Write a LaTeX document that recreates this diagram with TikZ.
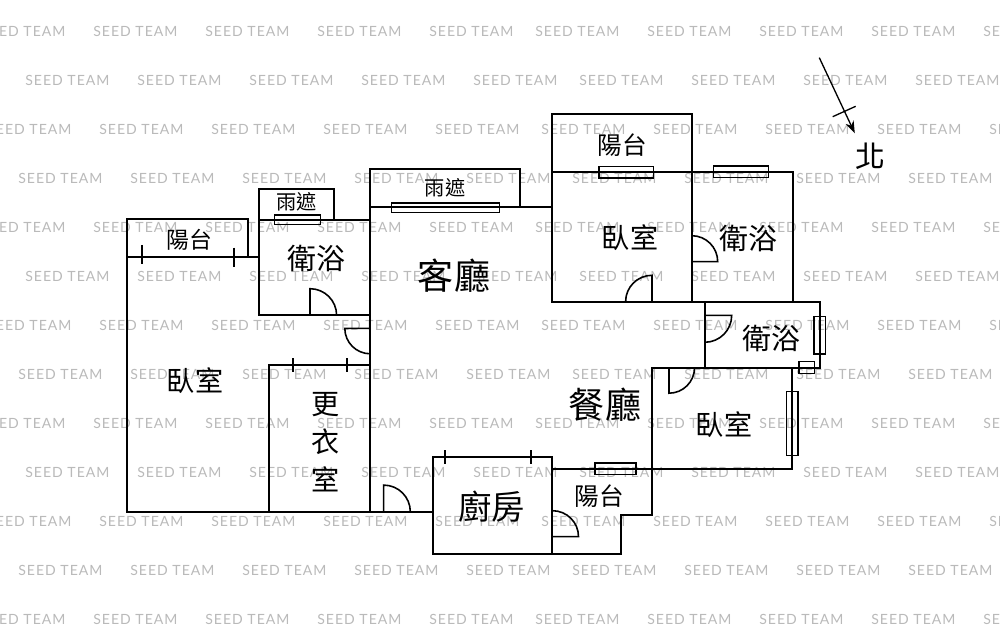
\documentclass[tikz,border=0pt]{standalone}
\usepackage{fontspec}
\usetikzlibrary{arrows.meta}
\setmainfont{Lato}
\newfontfamily\cjkfont{Noto Sans CJK TC}
\newfontfamily\markfont[LetterSpace=7]{Lato}
\tikzset{
  x=0.02cm,y=-0.02cm,
  wall/.style={draw=black,line width=0.95pt},
  windowbox/.style={draw=black,line width=0.9pt},
  doorleaf/.style={draw=black,line width=0.9pt},
  roomlabel/.style={font=\cjkfont,text=black,inner sep=0pt,anchor=center},
  watermark/.style={font=\markfont\fontsize{8}{10}\selectfont,text=black!27,inner sep=0pt,anchor=west},
}
\newcommand{\doorswing}[5]{\draw[doorleaf] (#1,#2) -- ++(#4:#3) arc[start angle=#4,end angle=#5,radius=#3];}
\newcommand{\roomtext}[5]{\node[roomlabel,name=#1] at (#2,#3) {\fontsize{#4}{#4}\selectfont #5};}
\begin{document}
\begin{tikzpicture}
\useasboundingbox (0,0) rectangle (1000,631);
\fill[white] (0,0) rectangle (1000,631);
\begin{scope}
\clip (0,0) rectangle (1000,631);
\foreach \rowy/\basex [count=\r] in {31/93,80/25,129/99,178/18,227/93,276/25,325/99,374/18,423/93,472/25,521/99,570/18,619/93}{
  \foreach \k in {-1,...,8}{
    \pgfmathsetmacro{\px}{\basex+112*\k}
    \pgfmathsetmacro{\qx}{\px>=500 ? \px-6 : \px}
    \node[watermark,name=wm-\r-\k] at (\qx,\rowy) {SEED TEAM};
  }
}
\end{scope}
% walls
\draw[wall] (248,257) -- (248,219) -- (126.7,219) -- (126.7,512) -- (432.7,512);
\draw[wall] (126.7,257) -- (259,257);
\draw[wall] (334,220) -- (334,188.7) -- (259,188.7) -- (259,315.3) -- (370.3,315.3);
\draw[wall] (259,220) -- (370.3,220);
\draw[wall] (520.3,206.7) -- (520.3,169.3) -- (370.3,169.3) -- (370.3,512);
\draw[wall] (370.3,206.7) -- (551.7,206.7);
\draw[wall] (691.7,301.7) -- (691.7,114.3) -- (551.7,114.3) -- (551.7,301.7) -- (820,301.7) -- (820,367.7) -- (651.7,367.7) -- (651.7,515) -- (620.7,515) -- (620.7,554) -- (432.7,554) -- (432.7,456.7) -- (552,456.7) -- (552,554);
\draw[wall] (551.7,172) -- (793,172) -- (793,301.7);
\draw[wall] (704.7,301.7) -- (704.7,367.7);
\draw[wall] (792.3,367.7) -- (792.3,469) -- (552,469);
\draw[wall] (269.3,512) -- (269.3,365) -- (370.3,365);
% ticks
\draw[wall] (142.3,245) -- (142.3,264);
\draw[wall] (234.3,247.7) -- (234.3,266.7);
\draw[wall] (292.7,358.3) -- (292.7,372);
\draw[wall] (347.3,358.3) -- (347.3,372);
\draw[wall] (444.7,450) -- (444.7,464);
\draw[wall] (530.7,450) -- (530.7,464);
% windows
\draw[windowbox] (274.7,215) rectangle (320.3,224.3);
\draw[windowbox] (391.7,203) rectangle (499.3,212.7);
\draw[windowbox] (598.7,166.7) rectangle (653.3,178);
\draw[windowbox] (713.3,166) rectangle (768.3,177.7);
\draw[windowbox] (814,316.3) rectangle (825.3,354);
\draw[windowbox] (799,361.7) rectangle (814.3,373.3);
\draw[windowbox] (786.3,391.3) rectangle (798,455.3);
\draw[windowbox] (594.7,463) rectangle (635.7,474.7);
% doors
\doorswing{310}{315.3}{26.6}{-90}{0}
\doorswing{370.3}{328.3}{25.5}{180}{90}
\doorswing{652}{301.7}{26.4}{-90}{-180}
\doorswing{691.7}{261.7}{26}{0}{-90}
\doorswing{704.7}{315.3}{27}{0}{90}
\doorswing{669}{367.7}{25.5}{90}{0}
\doorswing{552.5}{536.7}{26}{0}{-90}
\doorswing{383.7}{511.7}{26.6}{-90}{0}
% north arrow
\coordinate (northtail) at (819.3,57.7);
\coordinate (northtip) at (854.8,133.3);
\draw[line width=0.75pt,-{Stealth[length=7pt,width=5pt]}] (northtail) -- (northtip);
\draw[line width=0.75pt] (832.7,116.7) -- (855.7,106.3);
\roomtext{north}{870.7}{156.7}{17}{北}
% labels
\roomtext{balcA}{189}{240}{13}{陽台}
\roomtext{rainA}{296.7}{201.7}{11.5}{雨遮}
\roomtext{bathA}{316}{258}{16.5}{衛浴}
\roomtext{bedA}{195}{381}{16}{臥室}
\node[roomlabel,name=dress,align=center,font=\cjkfont\fontsize{16}{21.5}\selectfont] at (326,442) {更\\衣\\室};
\roomtext{rainB}{445}{188}{11.5}{雨遮}
\roomtext{living}{454}{276}{20.5}{客廳}
\roomtext{balcB}{622}{145}{14}{陽台}
\roomtext{bedB}{630}{238}{16}{臥室}
\roomtext{bathB}{748}{238}{16.5}{衛浴}
\roomtext{bathC}{771}{338}{16.5}{衛浴}
\roomtext{bedC}{724}{425}{16}{臥室}
\roomtext{dining}{605}{405}{20.5}{餐廳}
\roomtext{kitchen}{491.7}{506.7}{19}{廚房}
\roomtext{balcC}{599}{496}{14}{陽台}
\end{tikzpicture}
\end{document}
